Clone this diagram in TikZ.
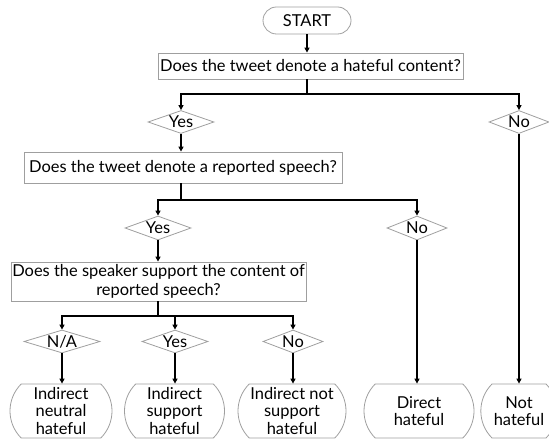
\documentclass[tikz,border=0pt]{standalone}
\usepackage{fontspec}
\setmainfont{Lato}
\usetikzlibrary{shapes.geometric,shapes.misc,arrows.meta}
\tikzset{
  qbox/.style={draw=gray!75, line width=0.8bp, rectangle, inner sep=0pt, align=center, font=\fontsize{16.5}{19}\selectfont},
  dia/.style={draw=gray!75, line width=0.8bp, diamond, aspect=3, inner sep=0pt, text height=11bp, text depth=0pt, font=\fontsize{16.5}{17}\selectfont},
  term/.style={draw=gray!75, line width=0.8bp, rounded rectangle, rounded rectangle arc length=90, inner sep=0pt, align=center, minimum height=54bp, font=\fontsize{16.5}{17.5}\selectfont},
  startbox/.style={draw=gray!75, line width=0.8bp, rounded rectangle, inner sep=0pt, minimum width=88bp, minimum height=27bp, font=\fontsize{16.5}{17}\selectfont},
  conn/.style={line width=1.7bp, black},
  arr/.style={conn, -{Triangle[length=5bp,width=5bp]}}
}
\begin{document}
\begin{tikzpicture}[x=1bp,y=-1bp]
\useasboundingbox (0,0) rectangle (549,439);
\node[startbox] (start) at (307,20.5) {START};
\node[qbox, minimum width=305bp, minimum height=26bp] (q1) at (310.5,66) {Does the tweet denote a hateful content?};
\coordinate (j1) at (307,94);
\node[dia, minimum width=66bp, minimum height=23bp] (yes1) at (181,122) {Yes};
\node[dia, minimum width=60bp, minimum height=23bp] (no1) at (519,122) {No};
\node[qbox, minimum width=318bp, minimum height=31bp] (q2) at (183,167.5) {Does the tweet denote a reported speech?};
\coordinate (j2) at (181,200);
\node[dia, minimum width=66bp, minimum height=24bp] (yes2) at (158,228) {Yes};
\node[dia, minimum width=60bp, minimum height=24bp] (no2) at (417,228) {No};
\node[qbox, minimum width=295bp, minimum height=39bp] (q3) at (158.5,281.5) {Does the speaker support the content of\\reported speech?};
\coordinate (j3) at (158,316);
\node[dia, minimum width=76bp, minimum height=23bp] (na) at (62,341.5) {N/A};
\node[dia, minimum width=66bp, minimum height=23bp] (yes3) at (175,341.5) {Yes};
\node[dia, minimum width=60bp, minimum height=23bp] (no3) at (293,341.5) {No};
\node[term, minimum width=102bp] (t1) at (61,411) {Indirect\\neutral\\hateful};
\node[term, minimum width=100bp] (t2) at (174.5,411) {Indirect\\support\\hateful};
\node[term, minimum width=108bp] (t3) at (292,411) {Indirect not\\support\\hateful};
\node[term, minimum width=110bp] (t4) at (419,411) {Direct\\hateful};
\node[term, minimum width=68bp] (t5) at (519,411) {Not\\hateful};
% connectors
\draw[arr] (start.south -| j1) -- (q1.north -| j1);
\draw[conn] (q1.south -| j1) -- (j1);
\draw[arr] (j1) -| (yes1.north);
\draw[arr] (j1) -| (no1.north);
\draw[arr] (yes1.south) -- (q2.north -| yes1.south);
\draw[conn] (q2.south -| j2) -- (j2);
\draw[arr] (j2) -| (yes2.north);
\draw[arr] (j2) -| (no2.north);
\draw[arr] (yes2.south) -- (q3.north -| yes2.south);
\draw[conn] (q3.south -| j3) -- (j3);
\draw[arr] (j3) -| (na.north);
\draw[arr] (j3) -| (yes3.north);
\draw[arr] (j3) -| (no3.north);
\draw[arr] (na.south) -- (t1.north -| na.south);
\draw[arr] (yes3.south) -- (t2.north -| yes3.south);
\draw[arr] (no3.south) -- (t3.north -| no3.south);
\draw[arr] (no2.south) -- (t4.north -| no2.south);
\draw[arr] (no1.south) -- (t5.north -| no1.south);
\end{tikzpicture}
\end{document}
